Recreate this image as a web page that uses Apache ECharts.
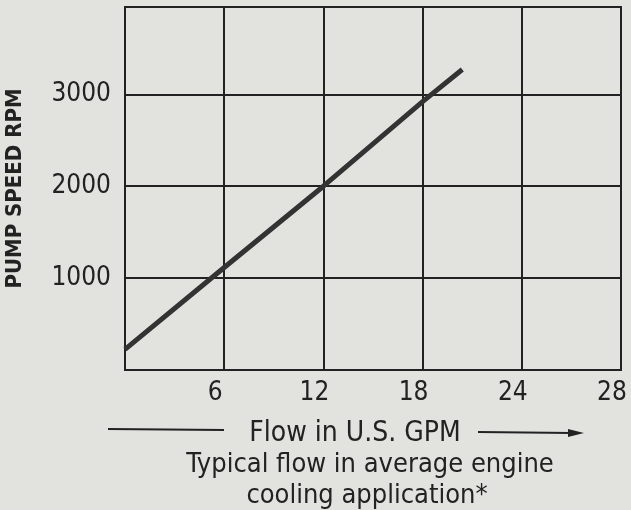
<!DOCTYPE html>
<html>
<head>
<meta charset="utf-8">
<script src="https://cdn.jsdelivr.net/npm/echarts@6/dist/echarts.min.js"></script>
<style>
  html, body { margin: 0; padding: 0; background: #e2e2df; }
  #chart { width: 631px; height: 510px; }
</style>
</head>
<body>
<div id="chart"></div>
<script>
// flow (US GPM) vs pump speed (RPM)
const flowGpm = [0, 6, 12, 18, 20.4]
const pumpRpm = [225, 1115, 2000, 2920, 3270]
// grid ticks; the last tick sits on the right edge and is printed "28"
const xTickValues = [6, 12, 18, 24, 30]
const xTickLabels = ['6', '12', '18', '24', '28']
const yTickValues = [1000, 2000, 3000]

const FONT = '"DejaVu Sans Condensed", "Liberation Sans", sans-serif'
const INK = '#222'

const myChart = echarts.init(document.getElementById('chart'))

myChart.setOption({
  backgroundColor: '#e2e2df',
  animation: false,
  grid: {
    left: 125, right: 10, top: 7, bottom: 140,
    outerBoundsMode: 'none',
    show: true, borderColor: INK, borderWidth: 2,
    backgroundColor: 'transparent'
  },
  xAxis: {
    type: 'value',
    min: 0,
    max: 30,
    interval: 6,
    axisLine: { show: true, lineStyle: { color: INK, width: 2 } },
    axisTick: { show: false },
    splitLine: { show: true, lineStyle: { color: INK, width: 2 } },
    axisLabel: {
      margin: 10,
      color: INK,
      fontFamily: FONT,
      fontSize: 26,
      padding: [0, 18, 0, 0],
      showMaxLabel: true,
      formatter: v => {
        const i = xTickValues.indexOf(v)
        return i >= 0 ? xTickLabels[i] : ''
      }
    }
  },
  yAxis: {
    type: 'value',
    min: 0,
    max: 3950,
    interval: 1000,
    name: 'PUMP SPEED RPM',
    nameLocation: 'middle',
    nameGap: 99,
    nameTextStyle: { color: INK, fontFamily: FONT, fontSize: 22, fontWeight: 'bold' },
    axisLine: { show: true, lineStyle: { color: INK, width: 2 } },
    axisTick: { show: false },
    splitLine: { show: true, lineStyle: { color: INK, width: 2 } },
    axisLabel: {
      margin: 14,
      color: INK,
      fontFamily: FONT,
      fontSize: 26,
      showMaxLabel: false,
      formatter: v => yTickValues.indexOf(v) >= 0 ? String(v) : ''
    }
  },
  title: [
    {
      text: 'Flow in U.S. GPM',
      left: 350, top: 415, textAlign: 'center',
      textStyle: { color: INK, fontFamily: FONT, fontSize: 28, fontWeight: 'normal' }
    },
    {
      text: 'Typical flow in average engine',
      left: 365, top: 446, textAlign: 'center',
      textStyle: { color: INK, fontFamily: FONT, fontSize: 27, fontWeight: 'normal' }
    },
    {
      text: 'cooling application*',
      left: 362, top: 477, textAlign: 'center',
      textStyle: { color: INK, fontFamily: FONT, fontSize: 27, fontWeight: 'normal' }
    }
  ],
  graphic: [
    {
      type: 'line',
      shape: { x1: 108, y1: 429, x2: 224, y2: 430 },
      style: { stroke: INK, lineWidth: 2 }
    },
    {
      type: 'line',
      shape: { x1: 478, y1: 432, x2: 572, y2: 433 },
      style: { stroke: INK, lineWidth: 2 }
    },
    {
      type: 'polygon',
      shape: { points: [[568, 429], [584, 433], [568, 437]] },
      style: { fill: INK }
    }
  ],
  series: [
    {
      type: 'line',
      data: flowGpm.map((f, i) => [f, pumpRpm[i]]),
      showSymbol: false,
      lineStyle: { color: '#333', width: 5 },
      z: 5
    }
  ]
})
</script>
</body>
</html>
